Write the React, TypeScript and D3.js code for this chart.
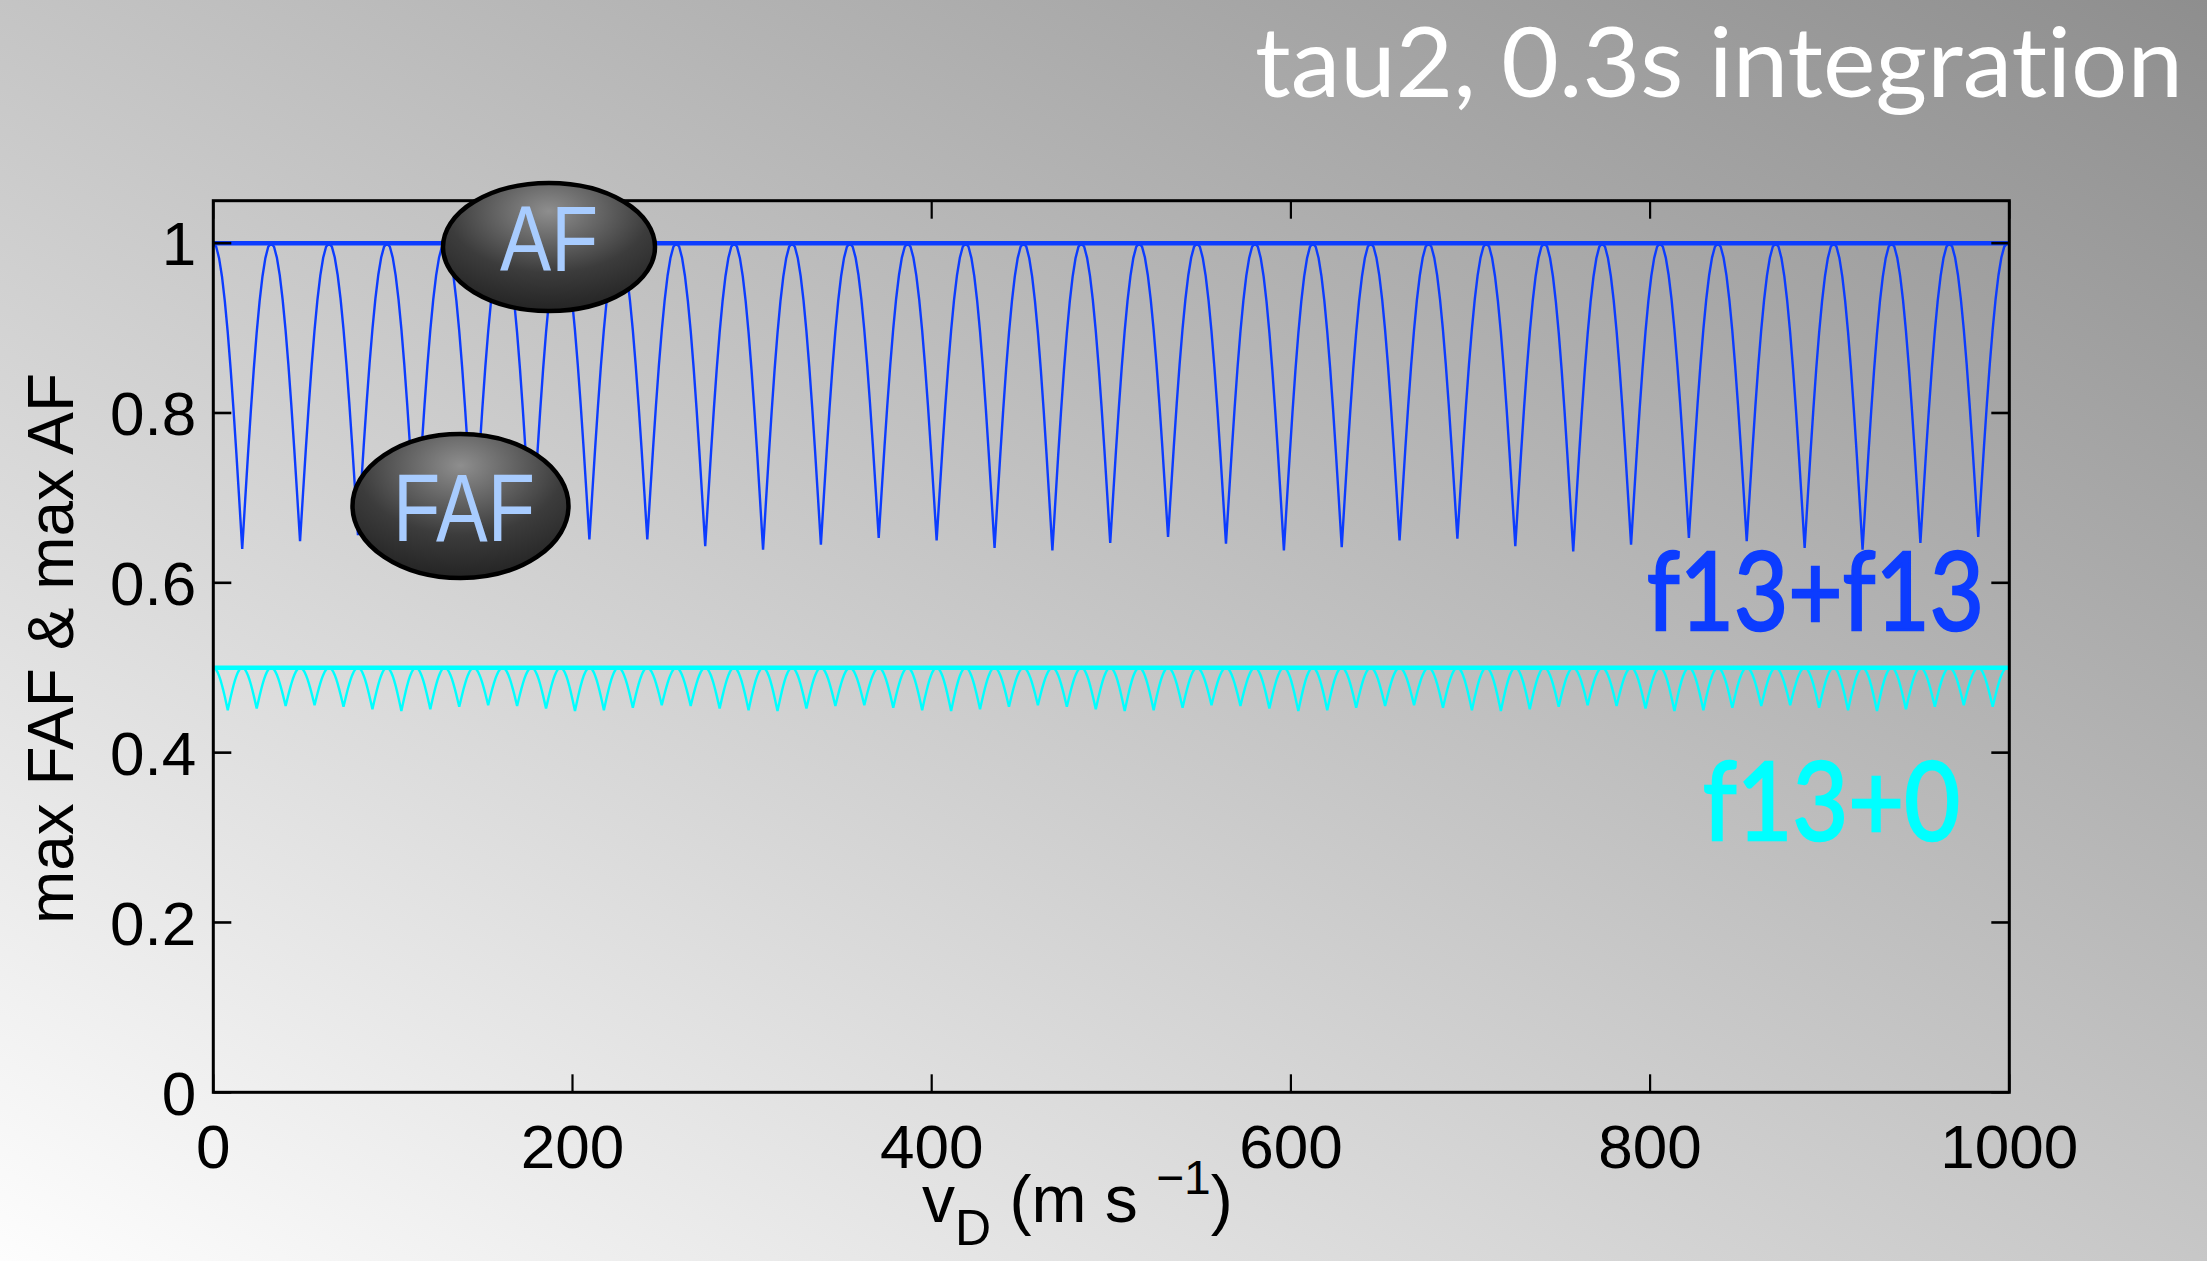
import React from 'react';
import * as d3 from 'd3';

const W = 2207;
const H = 1261;

// axis ticks
const xTicks = [0, 200, 400, 600, 800, 1000];
const yTicks = [0, 0.2, 0.4, 0.6, 0.8, 1];
const yTickLabels = ['0', '0.2', '0.4', '0.6', '0.8', '1'];

// f13+f13 : max AF level and FAF lobes (peaks at these vD, minima between)
const blueMaxAF = 1.0;
const bluePeaks = [0, 32.2, 64.4, 96.7, 128.9, 161.1, 193.3, 225.5, 257.8, 290, 322.2, 354.4, 386.6, 418.9, 451.1, 483.3,
  515.5, 547.7, 580, 612.2, 644.4, 676.6, 708.8, 741.1, 773.3, 805.5, 837.7, 869.9, 902.2, 934.4, 966.6, 998.8];
const blueMinima = [0.640, 0.649, 0.656, 0.652, 0.645, 0.640, 0.651, 0.651, 0.643, 0.639, 0.645, 0.653, 0.650, 0.641, 0.638,
  0.647, 0.654, 0.646, 0.638, 0.642, 0.650, 0.652, 0.643, 0.637, 0.645, 0.653, 0.649, 0.641, 0.639, 0.647, 0.654];

// f13+0 : max AF level and FAF lobes
const cyanMaxAF = 0.5;
const cyanPeriod = 16.11;
const cyanMinima = [0.450, 0.452, 0.455, 0.456, 0.454, 0.451, 0.449, 0.451, 0.454, 0.456, 0.455, 0.452, 0.449, 0.450, 0.453,
  0.456, 0.455, 0.452, 0.450, 0.449, 0.452, 0.455, 0.456, 0.453, 0.450, 0.449, 0.451, 0.454, 0.456, 0.454, 0.451, 0.449,
  0.450, 0.453, 0.456, 0.455, 0.452, 0.449, 0.450, 0.453, 0.455, 0.456, 0.453, 0.450, 0.449, 0.451, 0.454, 0.456, 0.455,
  0.452, 0.449, 0.450, 0.453, 0.455, 0.456, 0.453, 0.450, 0.449, 0.451, 0.454, 0.456, 0.454];

// lobe profile: fraction of the lobe depth vs fraction of half-period from a peak
const lobeU = [0, 0.1, 0.2, 0.3, 0.4, 0.5, 0.6, 0.7, 0.8, 0.9, 1];
const lobeDrop = [0, 0.012, 0.049, 0.109, 0.191, 0.293, 0.412, 0.546, 0.691, 0.844, 1];

const BLUE = '#0c3cff';
const CYAN = '#00ffff';

const left = 213.3, right = 2009.3, top = 200.7, bottom = 1092.3;

function buildLobes(peaks: number[], minima: number[], topV: number): [number, number][] {
  const pts: [number, number][] = [];
  for (let i = 0; i < minima.length && i + 1 < peaks.length; i++) {
    const p0 = peaks[i], p1 = peaks[i + 1];
    const half = (p1 - p0) / 2;
    const depth = topV - minima[i];
    for (let j = 0; j < lobeU.length; j++) pts.push([p0 + lobeU[j] * half, topV - lobeDrop[j] * depth]);
    for (let j = lobeU.length - 2; j >= 0; j--) pts.push([p1 - lobeU[j] * half, topV - lobeDrop[j] * depth]);
  }
  return pts;
}

export default function App() {
  const x = d3.scaleLinear().domain([0, 1000]).range([left, right]);
  const y = d3.scaleLinear().domain([0, 1.05]).range([bottom, top]);
  const line = d3.line<[number, number]>().x(d => x(d[0])).y(d => y(d[1])).curve(d3.curveLinear);

  const cyanPeaks = d3.range(cyanMinima.length + 1).map(i => i * cyanPeriod);
  const bluePts = buildLobes(bluePeaks, blueMinima, blueMaxAF);
  const cyanPts = buildLobes(cyanPeaks, cyanMinima, cyanMaxAF);

  const tickLen = 18;
  const sans = '"Liberation Sans", Arial, sans-serif';
  const gill = 'Lato, "Open Sans", sans-serif';
  const noLig = { fontVariantLigatures: 'none' as const };

  return (
    <svg width={W} height={H} style={{ position: 'absolute', left: 0, top: 0 }}>
      <defs>
        <linearGradient id="bg" gradientUnits="userSpaceOnUse" x1={2207} y1={0} x2={1174} y2={1898}>
          <stop offset="0" stopColor="rgb(142,142,142)" />
          <stop offset="1" stopColor="rgb(253,253,253)" />
        </linearGradient>
        <radialGradient id="bub" cx="50%" cy="22%" r="80%" fx="50%" fy="22%">
          <stop offset="0" stopColor="#8e8e8e" />
          <stop offset="0.6" stopColor="#3c3c3c" />
          <stop offset="1" stopColor="#222" />
        </radialGradient>
        <clipPath id="plotclip">
          <rect x={left} y={top} width={right - left} height={bottom - top} />
        </clipPath>
      </defs>
      <rect x={0} y={0} width={W} height={H} fill="url(#bg)" />

      <text x={1255} y={97} fontFamily={gill} fontSize={96} fill="#fff" textLength={928} lengthAdjust="spacingAndGlyphs" style={noLig}>
        tau2, 0.3s integration
      </text>

      <g clipPath="url(#plotclip)">
        <line x1={x(0)} x2={x(1000)} y1={y(cyanMaxAF)} y2={y(cyanMaxAF)} stroke={CYAN} strokeWidth={4.5} />
        <path d={line(cyanPts) || ''} fill="none" stroke={CYAN} strokeWidth={2.4} />
        <path d={line(bluePts) || ''} fill="none" stroke={BLUE} strokeWidth={2.4} />
        <line x1={x(0)} x2={x(1000)} y1={y(blueMaxAF)} y2={y(blueMaxAF)} stroke={BLUE} strokeWidth={4.5} />
      </g>

      {/* axes box and ticks */}
      <rect x={left} y={top} width={right - left} height={bottom - top} fill="none" stroke="#000" strokeWidth={3} />
      {xTicks.map(t => (
        <g key={'xt' + t}>
          <line x1={x(t)} x2={x(t)} y1={bottom} y2={bottom - tickLen} stroke="#000" strokeWidth={2.2} />
          <line x1={x(t)} x2={x(t)} y1={top} y2={top + tickLen} stroke="#000" strokeWidth={2.2} />
          <text x={x(t)} y={1168} textAnchor="middle" fontFamily={sans} fontSize={62} fill="#000">{t}</text>
        </g>
      ))}
      {yTicks.map((t, i) => (
        <g key={'yt' + t}>
          <line x1={left} x2={left + tickLen} y1={y(t)} y2={y(t)} stroke="#000" strokeWidth={2.6} />
          <line x1={right} x2={right - tickLen} y1={y(t)} y2={y(t)} stroke="#000" strokeWidth={2.6} />
          <text x={left - 17} y={y(t)} dy="0.36em" textAnchor="end" fontFamily={sans} fontSize={62} fill="#000">{yTickLabels[i]}</text>
        </g>
      ))}

      <text transform={`translate(73,${(top + bottom) / 2 + 2}) rotate(-90)`} textAnchor="middle" fontFamily={sans} fontSize={64} fill="#000">
        max FAF &amp; max AF
      </text>

      <text x={922} y={1222} fontFamily={sans} fontSize={66} fill="#000">
        v<tspan fontSize={50} dy={23}>D</tspan>
        <tspan fontSize={66} dy={-23}>{' (m s '}</tspan>
        <tspan fontSize={48} dy={-28}>−1</tspan>
        <tspan fontSize={66} dy={28}>)</tspan>
      </text>

      <text x={1647} y={630} fontFamily={gill} fontSize={108} fill={BLUE} stroke={BLUE} strokeWidth={2.5} textLength={337} lengthAdjust="spacingAndGlyphs">f13+f13</text>
      <text x={1703} y={840} fontFamily={gill} fontSize={108} fill={CYAN} stroke={CYAN} strokeWidth={2.5} textLength={257} lengthAdjust="spacingAndGlyphs">f13+0</text>

      {/* bubbles */}
      <ellipse cx={549} cy={247} rx={106} ry={64} fill="url(#bub)" stroke="#000" strokeWidth={4.5} />
      <text x={549} y={271} textAnchor="middle" fontFamily={sans} fontSize={92} fill="#a8ccff" textLength={98} lengthAdjust="spacingAndGlyphs">AF</text>
      <ellipse cx={460.5} cy={506} rx={108} ry={72} fill="url(#bub)" stroke="#000" strokeWidth={4.5} />
      <text x={464} y={541} textAnchor="middle" fontFamily={sans} fontSize={96} fill="#a8ccff" textLength={142} lengthAdjust="spacingAndGlyphs">FAF</text>
    </svg>
  );
}
